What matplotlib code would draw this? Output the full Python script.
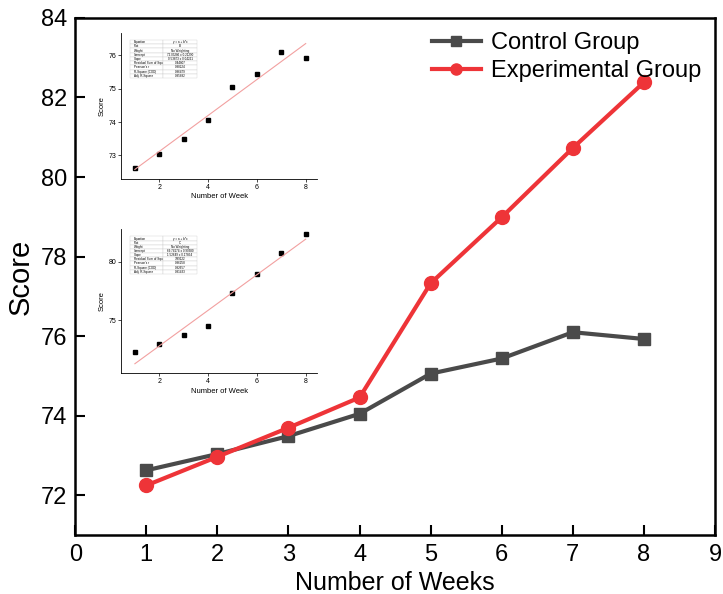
import matplotlib.pyplot as plt
import numpy as np

plt.rcParams['font.family'] = ['Liberation Sans', 'DejaVu Sans']

weeks = [1, 2, 3, 4, 5, 6, 7, 8]
control = [72.63, 73.04, 73.49, 74.05, 75.06, 75.44, 76.10, 75.93]
experimental = [72.25, 72.97, 73.70, 74.46, 77.33, 78.99, 80.73, 82.38]

# fit report tables shown in the insets
stats_names = ['Equation', 'Plot', 'Weight', 'Intercept', 'Slope',
               'Residual Sum of Squares', "Pearson's r", 'R-Square (COD)', 'Adj. R-Square']
stats_control = ['y = a + b*x', 'B', 'No Weighting', '72.03286 ± 0.21290', '0.53873 ± 0.04221',
                 '0.44807', '0.98224', '0.96479', '0.95892']
stats_exp = ['y = a + b*x', 'C', 'No Weighting', '69.74174 ± 0.90380', '1.52649 ± 0.17854',
             '3.89122', '0.96258', '0.92657', '0.91433']

fig = plt.figure(figsize=(7.23, 5.94), dpi=100)
ax = fig.add_axes([0.104, 0.099, 0.885, 0.871])

ax.plot(weeks, control, color='#4a4a4a', lw=3, marker='s', ms=9, label='Control Group')
ax.plot(weeks, experimental, color='#ee3438', lw=3, marker='o', ms=10, label='Experimental Group')

ax.set_xlim(0, 9)
ax.set_ylim(71, 84)
ax.set_xticks(range(0, 10))
ax.set_yticks(range(72, 85, 2))
ax.tick_params(direction='in', length=7, width=1.5, labelsize=17, pad=6)
for s in ax.spines.values():
    s.set_linewidth(1.8)
ax.set_xlabel('Number of Weeks', fontsize=18)
ax.set_ylabel('Score', fontsize=21)
ax.legend(loc='upper right', frameon=False, fontsize=17, handlelength=2.1, markerscale=0.8,
          borderaxespad=0.2, labelspacing=0.25, handletextpad=0.4)


def inset(rect, y, ylim, yticks, stats):
    ins = fig.add_axes(rect)
    ins.plot(weeks, y, 's', color='black', ms=3.5)
    b, a = np.polyfit(weeks, y, 1)
    xx = np.array([weeks[0], weeks[-1]])
    ins.plot(xx, a + b * xx, color='#f2a0a0', lw=0.8)
    ins.set_xlim(0.45, 8.45)
    ins.set_ylim(*ylim)
    ins.set_xticks([2, 4, 6, 8])
    ins.set_yticks(yticks)
    ins.spines['top'].set_visible(False)
    ins.spines['right'].set_visible(False)
    for s in ins.spines.values():
        s.set_linewidth(0.6)
    ins.tick_params(labelsize=5, length=2, width=0.5, pad=1.5)
    ins.set_xlabel('Number of Week', fontsize=5.5, labelpad=2)
    ins.set_ylabel('Score', fontsize=5.5, labelpad=2)
    tb = ins.table(cellText=list(zip(stats_names, stats)), bbox=[0.045, 0.69, 0.34, 0.26],
                   cellLoc='left')
    tb.auto_set_font_size(False)
    tb.set_fontsize(2.2)
    for (r, c), cell in tb.get_celld().items():
        cell.set_linewidth(0.2)
        cell.set_edgecolor('#bbbbbb')
        if c == 1:
            cell.set_text_props(ha='center')
    return ins


inset([0.168, 0.699, 0.27, 0.246], control, (72.3, 76.68), [73, 74, 75, 76], stats_control)
inset([0.168, 0.372, 0.27, 0.242], experimental, (70.45, 82.8), [75, 80], stats_exp)

fig.savefig('out.png', dpi=100)
